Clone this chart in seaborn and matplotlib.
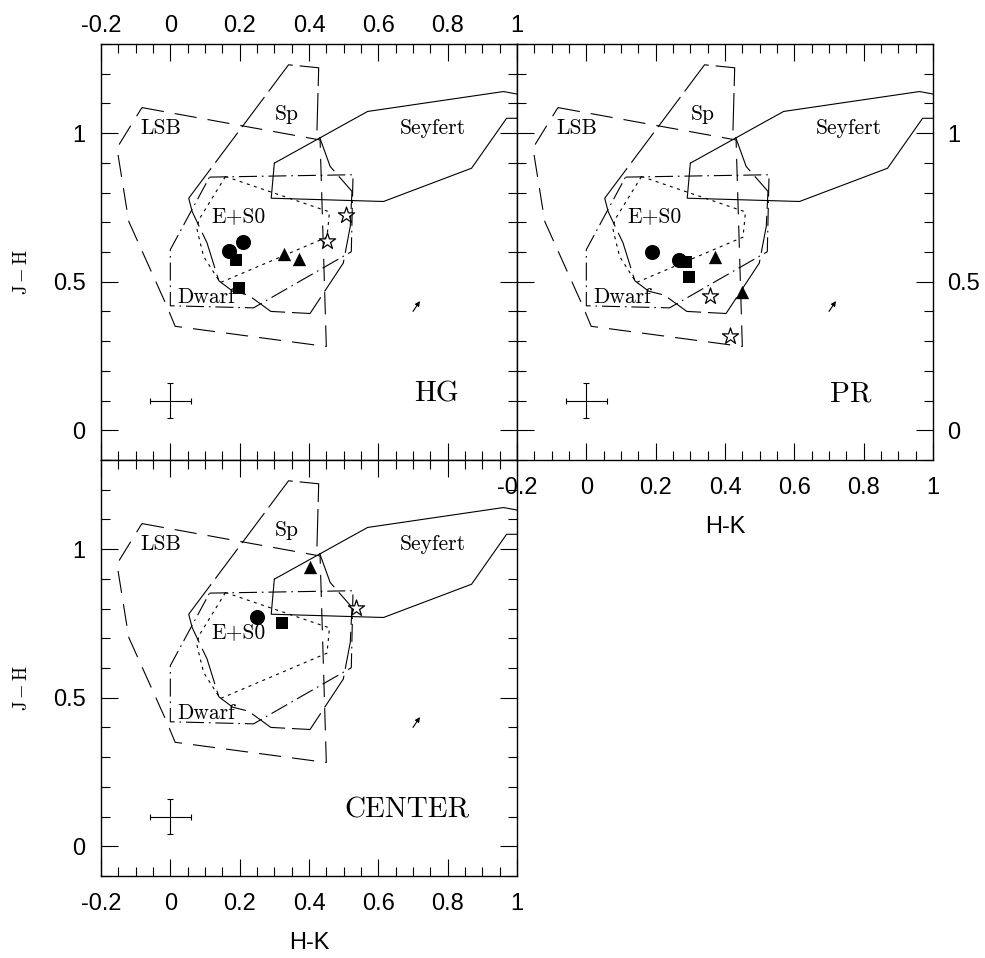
import matplotlib
matplotlib.use("Agg")
import matplotlib.pyplot as plt
from matplotlib.ticker import MultipleLocator, FuncFormatter
import pandas as pd
import seaborn as sns

# ---------------- data ----------------
panel_names = ["HG", "PR", "CENTER"]

hg_hk = [0.168, 0.211, 0.190, 0.197, 0.329, 0.372, 0.507, 0.453]
hg_jh = [0.602, 0.632, 0.572, 0.479, 0.594, 0.575, 0.723, 0.638]
hg_kind = ["circle", "circle", "square", "square", "triangle", "triangle", "star", "star"]

pr_hk = [0.189, 0.267, 0.288, 0.295, 0.370, 0.450, 0.357, 0.413]
pr_jh = [0.601, 0.572, 0.568, 0.516, 0.584, 0.464, 0.451, 0.318]
pr_kind = ["circle", "circle", "square", "square", "triangle", "triangle", "star", "star"]

center_hk = [0.250, 0.322, 0.402, 0.536]
center_jh = [0.772, 0.753, 0.941, 0.802]
center_kind = ["circle", "square", "triangle", "star"]

# regions of the colour-colour plane
lsb_hk = [-0.082, 0.432, 0.450, 0.014, -0.014, -0.120, -0.154, -0.082]
lsb_jh = [1.086, 0.977, 0.282, 0.350, 0.428, 0.703, 0.950, 1.086]

sp_hk = [0.053, 0.341, 0.428, 0.423, 0.461, 0.524, 0.519, 0.499, 0.403,
         0.290, 0.225, 0.180, 0.140, 0.106, 0.063, 0.053]
sp_jh = [0.781, 1.230, 1.220, 1.011, 0.888, 0.804, 0.686, 0.563, 0.393,
         0.400, 0.455, 0.468, 0.503, 0.630, 0.736, 0.781]

es0_hk = [0.159, 0.459, 0.452, 0.144, 0.096, 0.077, 0.082, 0.159]
es0_jh = [0.854, 0.735, 0.650, 0.497, 0.585, 0.675, 0.708, 0.854]

dwarf_hk = [0.113, 0.527, 0.522, 0.240, 0.0, 0.0, 0.113]
dwarf_jh = [0.852, 0.860, 0.601, 0.412, 0.419, 0.608, 0.852]

seyfert_hk = [0.300, 0.569, 0.961, 1.10, 1.10, 0.970, 0.869, 0.615, 0.291, 0.300]
seyfert_jh = [0.899, 1.073, 1.140, 1.11, 1.05, 1.050, 0.882, 0.770, 0.781, 0.899]

region_labels = ["LSB", "Sp", "Seyfert", "E+S0", "Dwarf"]
region_label_hk = [-0.027, 0.336, 0.757, 0.196, 0.103]
region_label_jh = [0.997, 1.045, 0.997, 0.699, 0.428]

panel_label_hk = [0.768, 0.764, 0.682]
panel_label_jh = [0.098, 0.098, 0.098]

# typical error bar and reddening vector
err_hk, err_jh, err_size = 0.0, 0.10, 0.06
redden_start = (0.700, 0.400)
redden_end = (0.720, 0.435)

# ---------------- style ----------------
sns.set_style("ticks")
plt.rcParams.update({
    "font.family": ["Liberation Sans", "DejaVu Sans"],
    "mathtext.fontset": "cm",
    "lines.scale_dashes": False,
    "axes.edgecolor": "black",
    "axes.linewidth": 1.0,
    "xtick.color": "black",
    "ytick.color": "black",
    "text.color": "black",
    "axes.labelcolor": "black",
    "xtick.direction": "in",
    "ytick.direction": "in",
})

points = pd.concat([
    pd.DataFrame({"panel": "HG", "hk": hg_hk, "jh": hg_jh, "kind": hg_kind}),
    pd.DataFrame({"panel": "PR", "hk": pr_hk, "jh": pr_jh, "kind": pr_kind}),
    pd.DataFrame({"panel": "CENTER", "hk": center_hk, "jh": center_jh, "kind": center_kind}),
], ignore_index=True)

marker_style = {
    "circle": dict(marker="o", s=118, color="black", edgecolor="black", linewidth=0),
    "square": dict(marker="s", s=78, color="black", edgecolor="black", linewidth=0),
    "triangle": dict(marker="^", s=92, color="black", edgecolor="black", linewidth=0),
    "star": dict(marker="*", s=150, color="white", edgecolor="black", linewidth=0.9),
}

region_style = [
    (lsb_hk, lsb_jh, dict(dashes=(16, 8))),
    (sp_hk, sp_jh, dict(dashes=(27, 5))),
    (es0_hk, es0_jh, dict(dashes=(2.2, 3.2))),
    (dwarf_hk, dwarf_jh, dict(dashes=(13, 3.5, 1.2, 3.5))),
    (seyfert_hk, seyfert_jh, dict(linestyle="-")),
]

serif = "cmr10"
tick_fs = 17

fig = plt.figure(figsize=(9.85, 9.58), dpi=100)
W, H = 985.0, 958.0
size_w, size_h = 416 / W, 416 / H
ax_hg = fig.add_axes([101 / W, (H - 460) / H, size_w, size_h])
ax_pr = fig.add_axes([517 / W, (H - 460) / H, size_w, size_h])
ax_ce = fig.add_axes([101 / W, (H - 876) / H, size_w, size_h])
ax_pr.set_zorder(3)
axes = {"HG": ax_hg, "PR": ax_pr, "CENTER": ax_ce}

fmt = FuncFormatter(lambda v, p: "%g" % round(v, 3) if abs(v) > 1e-9 else "0")

for i, name in enumerate(panel_names):
    ax = axes[name]
    for hk, jh, st in region_style:
        ax.plot(hk, jh, color="black", lw=0.8, **st)

    sub = points[points["panel"] == name]
    for kind, st in marker_style.items():
        part = sub[sub["kind"] == kind]
        if len(part):
            sns.scatterplot(data=part, x="hk", y="jh", ax=ax, legend=False,
                            zorder=5, **st)

    for lab, x, y in zip(region_labels, region_label_hk, region_label_jh):
        ax.text(x, y, lab, fontsize=15.5, family=serif, ha="center", va="baseline")
    ax.text(panel_label_hk[i], panel_label_jh[i], name, fontsize=21,
            family=serif, ha="center", va="baseline")

    ax.errorbar([err_hk], [err_jh], xerr=err_size, yerr=err_size, fmt="none",
                ecolor="black", elinewidth=0.8, capsize=2.2, capthick=0.8)
    ax.annotate("", xy=redden_end, xytext=redden_start,
                arrowprops=dict(arrowstyle="-|>", color="black", lw=0.8,
                                mutation_scale=7, shrinkA=0, shrinkB=0))

    ax.set_xlim(-0.2, 1.0)
    ax.set_ylim(-0.1, 1.3)
    ax.xaxis.set_major_locator(MultipleLocator(0.2))
    ax.xaxis.set_minor_locator(MultipleLocator(0.05))
    ax.yaxis.set_major_locator(MultipleLocator(0.5))
    ax.yaxis.set_minor_locator(MultipleLocator(0.1))
    ax.xaxis.set_major_formatter(fmt)
    ax.yaxis.set_major_formatter(fmt)
    ax.tick_params(which="major", length=12, width=0.8, top=True, right=True,
                   labelsize=tick_fs)
    ax.tick_params(which="minor", length=6.5, width=0.8, top=True, right=True)
    ax.set_xlabel("")
    ax.set_ylabel("")

# tick label placement per panel
ax_hg.tick_params(axis="x", labeltop=True, labelbottom=False, pad=5)
ax_hg.tick_params(axis="y", labelleft=True, labelright=False, pad=11)
ax_pr.tick_params(axis="x", labeltop=False, labelbottom=True, pad=12)
ax_pr.tick_params(axis="y", labelleft=False, labelright=True, pad=10)
ax_ce.tick_params(axis="x", labeltop=False, labelbottom=True, pad=12)
ax_ce.tick_params(axis="y", labelleft=True, labelright=False, pad=11)

for ax in (ax_pr, ax_ce):
    ax.set_xlabel("H-K", fontsize=17)
    ax.xaxis.set_label_coords(0.5, -0.135)

for ax in (ax_hg, ax_ce):
    ax.text(-0.19, 0.452, r"$\mathrm{J-H}$", rotation=90, fontsize=13.5,
            transform=ax.transAxes, ha="center", va="center")

fig.savefig("out.png", dpi=100)
